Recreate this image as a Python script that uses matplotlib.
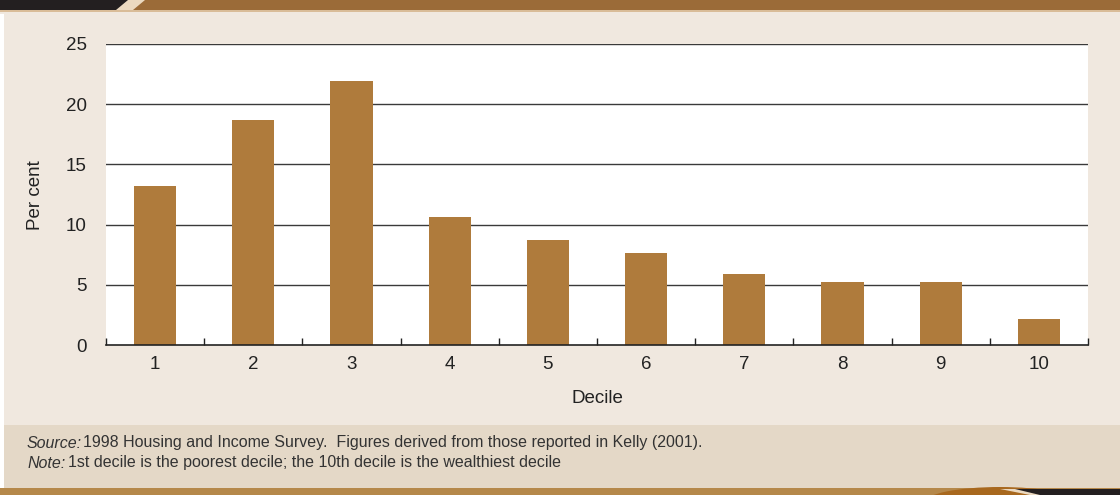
import numpy as np
import matplotlib.pyplot as plt
from matplotlib.patches import Rectangle, Polygon, Ellipse

plt.rcParams['font.family'] = ['Liberation Sans Narrow', 'Liberation Sans', 'DejaVu Sans']

deciles = ['1', '2', '3', '4', '5', '6', '7', '8', '9', '10']
per_cent = [13.2, 18.7, 21.9, 10.6, 8.7, 7.6, 5.9, 5.2, 5.2, 2.2]

W, H = 1120, 495
fig = plt.figure(figsize=(11.2, 4.95), dpi=100)
fig.patch.set_facecolor('#F0E8DF')

def fx(x):
    return x / W

def fy(y):
    return 1 - y / H

# decorative bands (figure coordinates)
fig.patches.append(Rectangle((0, fy(11)), 1, 11 / H, transform=fig.transFigure,
                             facecolor='#9B6B38', edgecolor='none', zorder=0))
fig.patches.append(Rectangle((0, fy(12)), 1, 2 / H, transform=fig.transFigure,
                             facecolor='#D9BC98', edgecolor='none', zorder=0))
fig.patches.append(Polygon([(0, 1), (fx(145), 1), (fx(133), fy(10)), (0, fy(10))],
                           closed=True, transform=fig.transFigure,
                           facecolor='#EBD9C0', edgecolor='none', zorder=0))
fig.patches.append(Polygon([(0, 1), (fx(128), 1), (fx(116), fy(10)), (0, fy(10))],
                           closed=True, transform=fig.transFigure,
                           facecolor='#231F20', edgecolor='none', zorder=0))
fig.patches.append(Rectangle((fx(4), fy(488)), 1, (488 - 425) / H, transform=fig.transFigure,
                             facecolor='#E4D8C7', edgecolor='none', zorder=0))
fig.patches.append(Rectangle((0, 0), 1, 7 / H, transform=fig.transFigure,
                             facecolor='#B5884A', edgecolor='none', zorder=0))
fig.patches.append(Ellipse((fx(1000), fy(502)), 150 / W, 30 / H, transform=fig.transFigure,
                           facecolor='#A8681E', edgecolor='none', zorder=1))
fig.patches.append(Polygon([(fx(1030), 0), (fx(1000), fy(489)), (fx(1120), fy(489)), (fx(1120), 0)],
                           closed=True, transform=fig.transFigure,
                           facecolor='#EBD9C0', edgecolor='none', zorder=2))
fig.patches.append(Polygon([(fx(1040), 0), (fx(1015), fy(489)), (fx(1120), fy(489)), (fx(1120), 0)],
                           closed=True, transform=fig.transFigure,
                           facecolor='#231F20', edgecolor='none', zorder=3))
fig.patches.append(Rectangle((0, 7 / H), fx(4), (488 - 14) / H, transform=fig.transFigure,
                             facecolor='white', edgecolor='none', zorder=2))

ax = fig.add_axes([fx(106), fy(345), fx(1088) - fx(106), (345 - 44) / H])
ax.set_facecolor('white')
x = np.arange(len(deciles))
ax.bar(x, per_cent, width=0.43, color='#AF7B3C', zorder=3)

ax.set_xlim(-0.5, len(deciles) - 0.5)
ax.set_ylim(0, 25)
ax.set_yticks([0, 5, 10, 15, 20, 25])
for v in [5, 10, 15, 20, 25]:
    ax.axhline(v, color='#3A3A3A', lw=1.0, zorder=2)

ax.set_xticks(x)
ax.set_xticklabels(deciles)
ax.set_xticks(np.arange(-0.5, len(deciles)), minor=True)
ax.tick_params(axis='x', which='major', length=0, pad=8, labelsize=13.5, colors='#222222')
ax.tick_params(axis='x', which='minor', direction='in', length=5, width=1, color='#222222')
ax.tick_params(axis='y', length=0, pad=14, labelsize=13.5, labelcolor='#222222')

for s in ['top', 'right', 'left']:
    ax.spines[s].set_visible(False)
ax.spines['bottom'].set_color('#222222')
ax.spines['bottom'].set_linewidth(1.2)
ax.spines['bottom'].set_zorder(4)

ax.set_xlabel('Decile', fontsize=13.5, color='#222222', labelpad=12)
fig.text(fx(36), fy(195), 'Per cent', rotation=90, fontsize=13.5, color='#222222',
         ha='center', va='center')

fig.text(fx(27), fy(443), 'Source:', style='italic', fontsize=11.5, color='#333333', va='center')
fig.text(fx(83), fy(443), '1998 Housing and Income Survey.  Figures derived from those reported in Kelly (2001).',
         fontsize=11.5, color='#333333', va='center')
fig.text(fx(27), fy(463), 'Note:', style='italic', fontsize=11.5, color='#333333', va='center')
fig.text(fx(68), fy(463), '1st decile is the poorest decile; the 10th decile is the wealthiest decile',
         fontsize=11.5, color='#333333', va='center')

fig.savefig('out.png', dpi=100, facecolor=fig.get_facecolor())
